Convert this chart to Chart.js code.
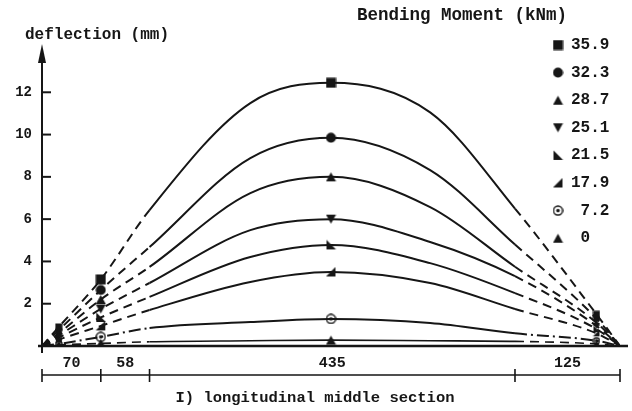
<!DOCTYPE html>
<html lang="en">
<head>
    <meta charset="UTF-8">
    <title>Deflection - longitudinal middle section</title>
    <script src="https://cdn.jsdelivr.net/npm/chart.js"></script>
    <style>
        body {
            margin: 0;
            background: #fff;
        }
        #wrap {
            width: 632px;
            height: 411px;
        }
    </style>
</head>
<body>
    <div id="wrap">
        <canvas id="deflectionChart" width="632" height="411"></canvas>
    </div>

    <script>
        // spans along the beam (mm) and the measuring stations
        const spanMm = [70, 58, 435, 125];
        const stations = [0, 20, 70, 128, 248, 344, 462, 563, 660, 688];
        const yTicks = [2, 4, 6, 8, 10, 12];

        // bending moment per load step (kNm)
        const moments = ['35.9', '32.3', '28.7', '25.1', '21.5', '17.9', '7.2', '0'];

        // deflection (mm) at each station, one array per load step
        const defl359 = [0, 0.9, 3.15, 6.43, 11.49, 12.45, 11.05, 6.5, 1.5, 0];
        const defl323 = [0, 0.75, 2.65, 4.68, 8.89, 9.85, 8.32, 4.8, 1.3, 0];
        const defl287 = [0, 0.6, 2.2, 3.74, 7.23, 8.0, 6.57, 3.75, 1.1, 0];
        const defl251 = [0, 0.5, 1.75, 2.98, 5.48, 6.0, 4.92, 3.3, 0.95, 0];
        const defl215 = [0, 0.4, 1.35, 2.32, 4.21, 4.78, 3.92, 2.5, 0.8, 0];
        const defl179 = [0, 0.3, 0.95, 1.7, 3.03, 3.5, 2.98, 1.75, 0.6, 0];
        const defl72 = [0, 0.1, 0.43, 0.85, 1.13, 1.28, 1.09, 0.6, 0.25, 0];
        const defl0 = [0, 0.05, 0.12, 0.2, 0.25, 0.28, 0.25, 0.22, 0.1, 0];

        const series = [defl359, defl323, defl287, defl251, defl215, defl179, defl72, defl0];
        const markerKinds = ['square', 'disc', 'tri', 'triDown', 'wedgeL', 'wedgeR', 'ring', 'tri'];

        const ink = '#161616';
        const mono = "'Liberation Mono', 'DejaVu Sans Mono', monospace";

        // boundaries of the spans, the measured zone is drawn solid
        const bounds = spanMm.reduce((acc, v) => { acc.push(acc[acc.length - 1] + v); return acc; }, [0]);
        const solidFrom = bounds[2];
        const solidTo = bounds[3];
        const spanMid = spanMm.map((v, i) => bounds[i] + v / 2);

        function marker(kind, s) {
            const c = document.createElement('canvas');
            c.width = c.height = s;
            const g = c.getContext('2d');
            g.fillStyle = ink;
            g.strokeStyle = ink;
            const m = s / 2;
            g.beginPath();
            switch (kind) {
                case 'square':
                    g.rect(0.5, 0.5, s - 1, s - 1);
                    g.fill();
                    break;
                case 'disc':
                    g.arc(m, m, m - 0.5, 0, Math.PI * 2);
                    g.fill();
                    break;
                case 'tri':
                    g.moveTo(m, 1);
                    g.lineTo(s - 0.5, s - 1);
                    g.lineTo(0.5, s - 1);
                    g.closePath();
                    g.fill();
                    break;
                case 'triDown':
                    g.moveTo(0.5, 1);
                    g.lineTo(s - 0.5, 1);
                    g.lineTo(m, s - 1);
                    g.closePath();
                    g.fill();
                    break;
                case 'wedgeL':
                    g.moveTo(1, 0.5);
                    g.lineTo(1, s - 1);
                    g.lineTo(s - 0.5, s - 1);
                    g.closePath();
                    g.fill();
                    break;
                case 'wedgeR':
                    g.moveTo(s - 1, 0.5);
                    g.lineTo(s - 1, s - 1);
                    g.lineTo(0.5, s - 1);
                    g.closePath();
                    g.fill();
                    break;
                case 'ring':
                    g.lineWidth = 1.4;
                    g.arc(m, m, m - 1, 0, Math.PI * 2);
                    g.stroke();
                    g.beginPath();
                    g.arc(m, m, 1.8, 0, Math.PI * 2);
                    g.fill();
                    break;
            }
            return c;
        }

        const bigMarkers = markerKinds.map(k => marker(k, 11));
        const smallMarkers = markerKinds.map(k => marker(k, 8));
        const mainStations = [70, 344];
        const sideStations = [20, 660];

        const datasets = series.map((vals, i) => ({
            label: moments[i],
            data: stations.map((x, j) => ({ x: x, y: vals[j] })),
            borderColor: ink,
            backgroundColor: ink,
            borderWidth: i === 7 ? 1.6 : 2,
            cubicInterpolationMode: 'monotone',
            pointStyle: ctx => mainStations.includes(ctx.raw.x) ? bigMarkers[i] : smallMarkers[i],
            pointRadius: ctx => (mainStations.includes(ctx.raw.x) || sideStations.includes(ctx.raw.x)) ? 5 : 0,
            segment: {
                borderDash: ctx => {
                    if (ctx.p1.parsed.x <= solidFrom || ctx.p0.parsed.x >= solidTo) {
                        return i === 6 ? [12, 4, 2, 4] : [9, 6];
                    }
                    return undefined;
                }
            }
        }));

        // axes, arrow, dimension line and legend block
        const decorations = {
            id: 'decorations',
            beforeDatasetsDraw(chart) {
                const { ctx, scales: { x, y } } = chart;
                const x0 = x.getPixelForValue(0);
                const y0 = y.getPixelForValue(0);
                ctx.save();
                ctx.strokeStyle = ink;
                ctx.fillStyle = ink;

                // baseline
                ctx.lineWidth = 2.4;
                ctx.beginPath();
                ctx.moveTo(x0 - 4, y0);
                ctx.lineTo(x.right + 8, y0);
                ctx.stroke();

                // vertical axis with arrow head
                ctx.lineWidth = 2;
                ctx.beginPath();
                ctx.moveTo(x0, y0 + 7);
                ctx.lineTo(x0, 60);
                ctx.stroke();
                ctx.beginPath();
                ctx.moveTo(x0, 44);
                ctx.lineTo(x0 + 4, 63);
                ctx.lineTo(x0 - 4, 63);
                ctx.closePath();
                ctx.fill();

                // inward tick marks
                yTicks.forEach(v => {
                    const py = y.getPixelForValue(v);
                    ctx.beginPath();
                    ctx.moveTo(x0, py);
                    ctx.lineTo(x0 + 9, py);
                    ctx.stroke();
                });

                // dimension line below the spans
                const dimY = y0 + 29;
                ctx.lineWidth = 1.6;
                ctx.beginPath();
                ctx.moveTo(x.getPixelForValue(bounds[0]), dimY);
                ctx.lineTo(x.getPixelForValue(bounds[bounds.length - 1]), dimY);
                bounds.forEach(b => {
                    const px = x.getPixelForValue(b);
                    ctx.moveTo(px, dimY - 6);
                    ctx.lineTo(px, dimY + 7);
                });
                ctx.stroke();

                // axis captions
                ctx.font = 'bold 16px ' + mono;
                ctx.textBaseline = 'middle';
                ctx.textAlign = 'left';
                ctx.fillText('deflection (mm)', 25, 35);
                ctx.font = 'bold 15.5px ' + mono;
                ctx.textAlign = 'center';
                ctx.fillText('I) longitudinal middle section', 315, 398);

                // legend
                ctx.font = 'bold 17.5px ' + mono;
                ctx.textAlign = 'left';
                ctx.fillText('Bending Moment (kNm)', 357, 16);
                ctx.font = 'bold 16px ' + mono;
                moments.forEach((m, i) => {
                    const ly = 45 + i * 27.6;
                    const img = bigMarkers[i];
                    ctx.drawImage(img, 558 - img.width / 2, ly - img.height / 2);
                    const txt = parseFloat(m) < 10 ? ' ' + m : m;
                    ctx.fillText(txt, 571, ly);
                });
                ctx.restore();
            }
        };

        const chart = new Chart(document.getElementById('deflectionChart'), {
            type: 'line',
            data: { datasets: datasets },
            plugins: [decorations],
            options: {
                responsive: false,
                animation: false,
                layout: { padding: { top: 50, right: 12, left: 0, bottom: 0 } },
                plugins: {
                    legend: { display: false },
                    tooltip: { enabled: false }
                },
                scales: {
                    x: {
                        type: 'linear',
                        min: 0,
                        max: 688,
                        grid: { display: false, drawTicks: false },
                        border: { display: false },
                        afterBuildTicks: s => { s.ticks = spanMid.map(v => ({ value: v })); },
                        afterFit: s => { s.height = 65; },
                        ticks: {
                            autoSkip: false,
                            maxRotation: 0,
                            padding: 8,
                            color: ink,
                            font: { family: mono, size: 15, weight: 'bold' },
                            callback: (v, i) => spanMm[i]
                        }
                    },
                    y: {
                        min: 0,
                        max: 14,
                        grid: { display: false, drawTicks: false },
                        border: { display: false },
                        afterBuildTicks: s => { s.ticks = yTicks.map(v => ({ value: v })); },
                        afterFit: s => { s.width = 42; },
                        ticks: {
                            padding: 10,
                            color: ink,
                            font: { family: mono, size: 14, weight: 'bold' }
                        }
                    }
                }
            }
        });
    </script>
</body>
</html>
